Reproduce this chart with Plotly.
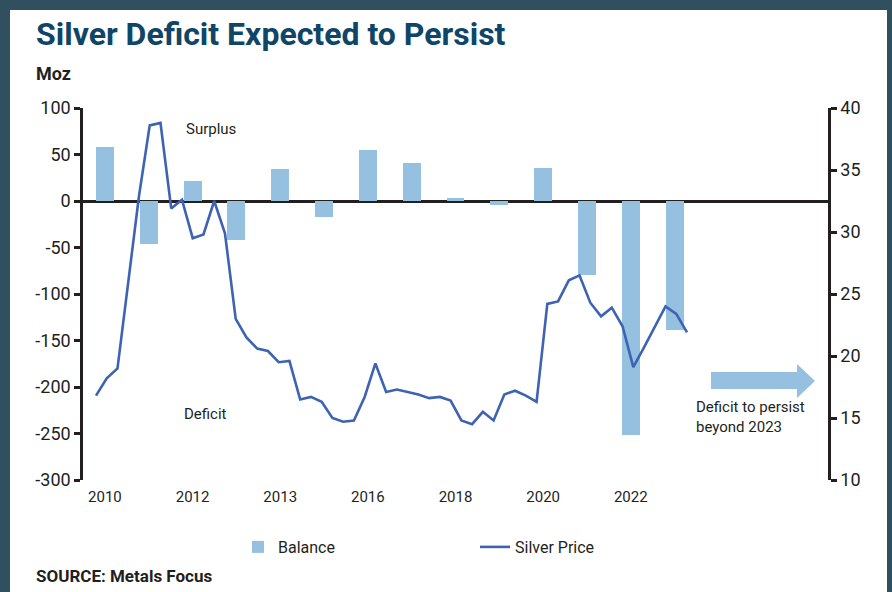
import plotly.graph_objects as go

# ---------------- data ----------------
years = [str(y) for y in range(2010, 2024)]
balance = [58, -46, 21, -42, 34, -17, 55, 41, 3, -4, 36, -80, -252, -139]

quarters = [f"{y}Q{q}" for y in range(2010, 2024) for q in range(1, 5)]
silver_price = [
    16.8, 18.2, 19.0, 26.1, 32.9, 38.6, 38.8, 31.9,
    32.6, 29.5, 29.8, 32.5, 29.9, 23.0, 21.5, 20.6,
    20.4, 19.5, 19.6, 16.5, 16.7, 16.3, 15.0, 14.7,
    14.8, 16.7, 19.4, 17.1, 17.3, 17.1, 16.9, 16.6,
    16.7, 16.4, 14.8, 14.5, 15.5, 14.8, 16.9, 17.2,
    16.8, 16.3, 24.2, 24.4, 26.1, 26.5, 24.3, 23.2,
    23.9, 22.4, 19.1, 20.7, 22.3, 24.0, 23.4, 21.9,
]

tick_years = ["2010", "2012", "2014", "2016", "2018", "2020", "2022"]
tick_labels = ["2010", "2012", "2013", "2016", "2018", "2020", "2022"]

left_ticks = [100, 50, 0, -50, -100, -150, -200, -250, -300]
left_labels = ["100", "50", "0", "-50", "-100", "-150", "-200", "-250", "-300"]
right_ticks = [40, 35, 30, 25, 20, 15, 10]

# ---------------- style ----------------
FONT = "Roboto, sans-serif"
TXT = "#231f20"
BAR = "#95c0df"
LINE = "#3e63b2"
BORDER = "#30505f"

W, H = 892, 592
L, R, T, B = 83, 828, 108, 480


def px(x):
    return (x - L) / (R - L)


def py(y):
    return (B - y) / (B - T)


fig = go.Figure()
fig.add_trace(go.Bar(
    x=years, y=balance, name="Balance", marker_color=BAR,
    marker_line_width=0, width=0.41, xaxis="x", yaxis="y",
))
fig.add_trace(go.Scatter(
    x=quarters, y=silver_price, name="Silver Price", mode="lines",
    line=dict(color=LINE, width=2.6), xaxis="x2", yaxis="y2",
))

axis_font = dict(family=FONT, size=18, color=TXT)

fig.update_layout(
    width=W, height=H,
    margin=dict(l=L, r=W - R, t=T, b=H - B, pad=0),
    paper_bgcolor=BORDER,
    plot_bgcolor="white",
    showlegend=True,
    bargap=0,
    xaxis=dict(
        type="category", range=[-0.5, 16.5],
        tickvals=tick_years, ticktext=tick_labels,
        showline=False, showgrid=False, zeroline=False, ticks="",
        ticklabelstandoff=6,
        tickfont=dict(family=FONT, size=15, color=TXT),
    ),
    xaxis2=dict(
        type="category", overlaying="x", range=[-1.21, 68.12],
        visible=False,
    ),
    yaxis=dict(
        range=[-300, 100], tickvals=left_ticks, ticktext=left_labels,
        showline=True, linecolor=TXT, linewidth=2.5,
        ticks="outside", ticklen=6, tickwidth=2.5, tickcolor=TXT,
        showgrid=False, zeroline=True, zerolinecolor=TXT, zerolinewidth=2.5,
        tickfont=axis_font,
    ),
    yaxis2=dict(
        range=[10, 40], tickvals=right_ticks, overlaying="y", side="right", anchor="x",
        showline=True, linecolor=TXT, linewidth=2.5,
        ticks="outside", ticklen=6, tickwidth=2.5, tickcolor=TXT,
        showgrid=False, zeroline=False,
        tickfont=axis_font,
    ),
    legend=dict(
        orientation="h", x=px(238), xanchor="left", y=py(547), yanchor="middle",
        entrywidth=192, font=dict(family=FONT, size=16, color=TXT),
        bgcolor="rgba(0,0,0,0)",
    ),
    shapes=[
        dict(type="rect", xref="paper", yref="paper", layer="below",
             x0=px(10), x1=px(887), y0=py(600), y1=py(10),
             fillcolor="white", line_width=0),
        # arrow
        dict(type="path", xref="paper", yref="paper", layer="above",
             path=(f"M {px(711)} {py(372)} L {px(797)} {py(372)} L {px(797)} {py(364)} "
                   f"L {px(815)} {py(381)} L {px(797)} {py(398)} L {px(797)} {py(389)} "
                   f"L {px(711)} {py(389)} Z"),
             fillcolor=BAR, line_width=0),
    ],
    annotations=[
        dict(text="<b>Silver Deficit Expected to Persist</b>", xref="paper", yref="paper",
             x=px(34), y=py(34), xanchor="left", yanchor="middle", showarrow=False,
             font=dict(family=FONT, size=32, color="#0f4566")),
        dict(text="<b>Moz</b>", xref="paper", yref="paper",
             x=px(34), y=py(73), xanchor="left", yanchor="middle", showarrow=False,
             font=dict(family=FONT, size=18, color=TXT)),
        dict(text="Surplus", xref="paper", yref="paper",
             x=px(211), y=py(129), xanchor="center", yanchor="middle", showarrow=False,
             font=dict(family=FONT, size=15, color=TXT)),
        dict(text="Deficit", xref="paper", yref="paper",
             x=px(205), y=py(414), xanchor="center", yanchor="middle", showarrow=False,
             font=dict(family=FONT, size=15, color=TXT)),
        dict(text="Deficit to persist<br>beyond 2023", xref="paper", yref="paper",
             x=px(694), y=py(417), xanchor="left", yanchor="middle", align="left",
             showarrow=False, font=dict(family=FONT, size=15, color=TXT)),
        dict(text="<b>SOURCE: Metals Focus</b>", xref="paper", yref="paper",
             x=px(34), y=py(576), xanchor="left", yanchor="middle", showarrow=False,
             font=dict(family=FONT, size=17, color=TXT)),
    ],
)

fig.write_html("out.html", config={"displayModeBar": False},
               post_script="document.body.style.margin='0px';")
